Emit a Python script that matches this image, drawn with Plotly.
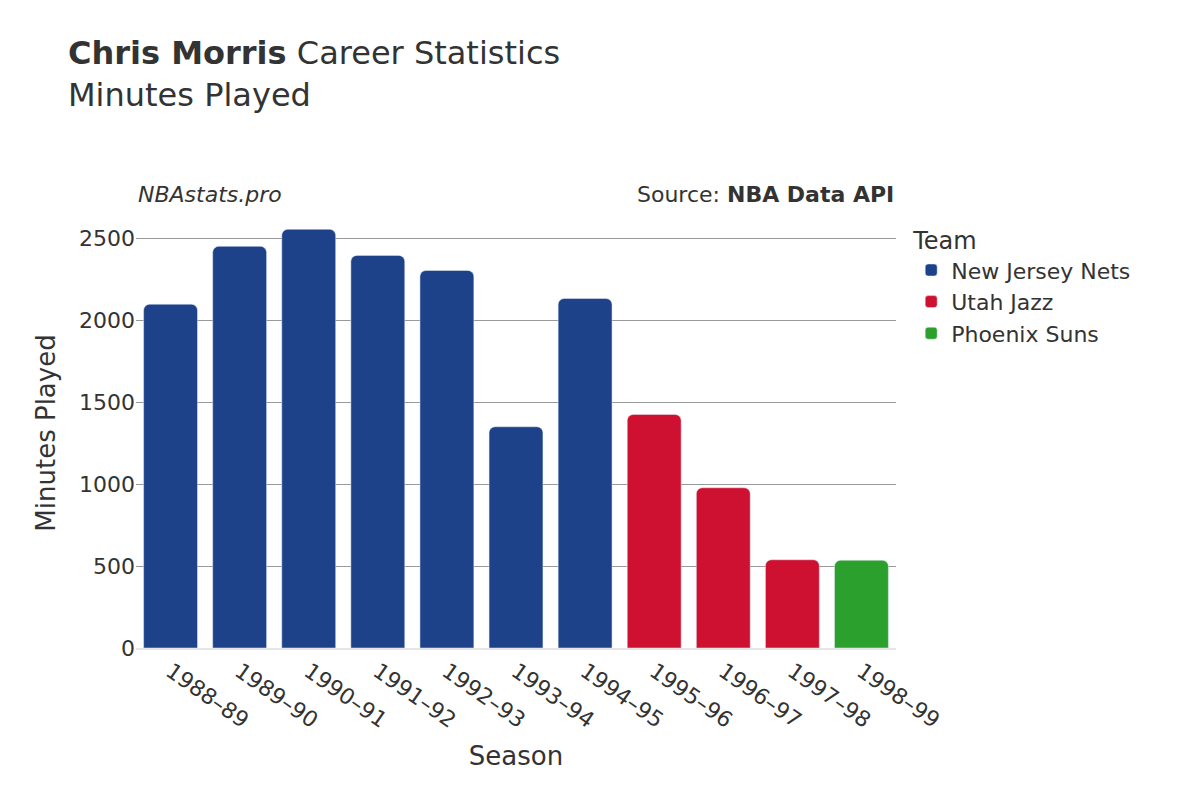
import plotly.graph_objects as go

seasons = ["1988–89","1989–90","1990–91","1991–92","1992–93","1993–94","1994–95","1995–96","1996–97","1997–98","1998–99"]
teams = ["New Jersey Nets"]*7 + ["Utah Jazz"]*3 + ["Phoenix Suns"]
minutes = [2096, 2449, 2553, 2394, 2302, 1349, 2131, 1424, 977, 538, 535]
team_order = ["New Jersey Nets", "Utah Jazz", "Phoenix Suns"]
colors = {"New Jersey Nets": "#1d428a", "Utah Jazz": "#ce1130", "Phoenix Suns": "#2ca02c"}

fig = go.Figure()
for t in team_order:
    xs = [s for s, tm in zip(seasons, teams) if tm == t]
    ys = [m for m, tm in zip(minutes, teams) if tm == t]
    fig.add_bar(x=xs, y=ys, name=t, marker_color=colors[t])

fig.update_layout(
    width=1200, height=800,
    font=dict(family="DejaVu Sans", color="#333", size=20),
    plot_bgcolor="white", paper_bgcolor="white",
    margin=dict(l=128, r=312, t=210, b=160),
    barcornerradius=6, bargap=0.22,
    title=dict(text="<b>Chris Morris</b> Career Statistics<br>Minutes Played",
               x=0.05, xanchor="left", y=0.93, yanchor="top", font=dict(size=32)),
    legend=dict(title=dict(text="Team", font=dict(size=24)), x=1.02, y=1.0, yanchor="top",
                font=dict(size=22), tracegroupgap=4),
    xaxis=dict(title=dict(text="Season", font=dict(size=26)), tickangle=35,
               categoryorder="array", categoryarray=seasons, tickfont=dict(size=22),
               showline=True, linecolor="#e6e6e6", linewidth=2),
    yaxis=dict(title=dict(text="Minutes Played", font=dict(size=26)), range=[0, 2622],
               tickvals=[0, 500, 1000, 1500, 2000, 2500], gridcolor="#999",
               tickfont=dict(size=22), zeroline=False),
    annotations=[
        dict(text="<i>NBAstats.pro</i>", xref="paper", yref="paper", x=0, y=1.02,
             xanchor="left", yanchor="bottom", showarrow=False, font=dict(size=22)),
        dict(text="Source: <b>NBA Data API</b>", xref="paper", yref="paper", x=1, y=1.02,
             xanchor="right", yanchor="bottom", showarrow=False, font=dict(size=22)),
    ],
)
fig.write_html("out.html")
